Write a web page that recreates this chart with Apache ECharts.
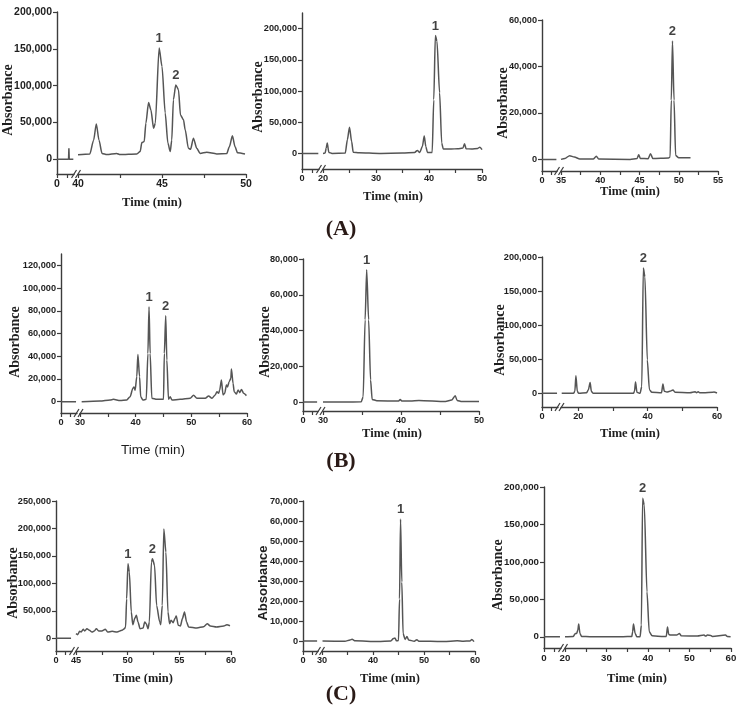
<!DOCTYPE html>
<html><head><meta charset="utf-8">
<script src="https://cdn.jsdelivr.net/npm/echarts@6/dist/echarts.min.js"></script>
<style>html,body{margin:0;padding:0;background:#fff}#c{width:742px;height:715px}</style>
</head><body><div id="c"></div>
<script>
// ---------------- DATA ----------------
// Panel A1
const stubA1 = [[0,0],[3.4,0],[3.5,15000],[3.6,0],[4.8,0]];
const mainA1 = [[40,6000],[40.7,7000],[40.93,26000],[41.09,48000],[41.25,26000],[41.43,8000],[41.72,6400],[42.3,8000],[42.5,6400],[43.5,7300],[43.7,10500],[43.8,22700],[43.94,24000],[44.04,49000],[44.2,77000],[44.34,67000],[44.5,42000],[44.6,49000],[44.83,151000],[45.0,126000],[45.19,63000],[45.35,22000],[45.49,10500],[45.58,26000],[45.68,81000],[45.82,101000],[45.98,94500],[46.1,60000],[46.28,53600],[46.38,40000],[46.57,15000],[46.7,13600],[46.87,28600],[47.07,15000],[47.27,8000],[47.66,9500],[48.26,7300],[48.85,7700],[49.01,17000],[49.19,31800],[49.35,17000],[49.49,9000],[49.94,7300]];
const peaksA1 = [[44.83,151000,'1'],[45.82,101000,'2']];
const yTicksA1 = [0,50000,100000,150000,200000];
const xTicksA1 = [40,42.5,45,47.5,50];
const xLabelsA1 = [40,45,50];
// Panel A2
const stubA2 = [[0,0],[4.8,0]];
const mainA2 = [[20,0],[20.4,500],[20.6,8500],[20.8,16500],[21.1,1600],[21.7,0],[24.2,500],[24.6,22000],[25.0,42000],[25.4,19000],[25.7,2000],[26.8,1000],[30.6,0],[35,500],[37.3,1600],[37.8,4800],[38.25,1600],[38.75,11000],[39.1,28000],[39.4,11000],[39.7,1600],[40.6,1600],[40.9,86000],[41.2,189000],[41.5,180000],[42.0,97000],[42.4,16500],[42.7,7000],[44.2,7000],[45.4,7500],[46.4,8500],[46.7,15500],[47.0,7500],[48.0,7000],[49.2,8000],[49.6,10000],[50,6000]];
const peaksA2 = [[41.2,189000,'1']];
const yTicksA2 = [0,50000,100000,150000,200000];
const xTicksA2 = [20,25,30,35,40,45,50];
const xLabelsA2 = [20,30,40,50];
// Panel A3
const stubA3 = [[0,0],[4.8,0]];
const mainA3 = [[35,0],[35.5,430],[36.1,1600],[36.7,1000],[37.4,150],[39.1,150],[39.5,1300],[39.8,150],[43.8,0],[44.7,400],[44.9,2000],[45.1,400],[46.1,300],[46.4,2400],[46.7,400],[48.7,600],[48.9,1000],[49.05,25500],[49.2,51000],[49.4,25500],[49.6,1700],[50.0,700],[51.5,700]];
const peaksA3 = [[49.2,51000,'2']];
const yTicksA3 = [0,20000,40000,60000];
const xTicksA3 = [35,37.5,40,42.5,45,47.5,50,52.5,55];
const xLabelsA3 = [35,40,45,50,55];
// Panel B1
const stubB1 = [[0,0],[1.4,0],[1.8,900],[2.2,0],[4.7,0]];
const mainB1 = [[30.3,0],[33.6,600],[35.4,1500],[36.0,2000],[37.2,900],[38.4,1500],[39.0,4400],[39.5,11700],[39.7,13000],[39.9,10000],[40.2,22000],[40.4,41600],[40.7,22000],[40.9,4400],[41.3,1500],[41.9,2000],[42.2,42500],[42.4,83500],[42.6,42500],[42.9,3000],[43.8,2000],[45.0,2000],[45.15,42500],[45.4,75600],[45.6,36600],[45.9,2000],[46.2,4400],[46.5,1500],[48.0,2000],[49.8,3000],[50.4,5600],[51.0,3000],[52.5,3000],[53.1,5000],[53.7,3000],[54.3,5900],[54.6,8800],[54.9,7300],[55.1,10300],[55.4,19000],[55.7,5900],[56.0,7300],[56.3,14600],[56.5,13000],[56.8,17600],[57.1,20500],[57.2,28700],[57.5,16000],[57.7,8800],[58.1,6700],[58.4,10300],[58.7,7900],[59.0,10800],[59.4,7300],[59.9,5300]];
const peaksB1 = [[42.4,83500,'1'],[45.4,75600,'2']];
const yTicksB1 = [0,20000,40000,60000,80000,100000,120000];
const xTicksB1 = [30,35,40,45,50,55,60];
const xLabelsB1 = [30,40,50,60];
// Panel B2
const stubB2 = [[0,0],[4.7,0]];
const mainB2 = [[30,0],[32.8,0],[34.9,200],[35.15,3000],[35.4,46000],[35.6,74000],[35.85,46000],[36.1,12300],[36.3,1500],[36.9,750],[39.7,560],[39.9,1500],[40.1,560],[41.2,560],[42.3,900],[45.7,300],[46.5,1100],[46.95,3500],[47.2,900],[47.8,300],[50,300]];
const peaksB2 = [[35.6,74000,'1']];
const yTicksB2 = [0,20000,40000,60000,80000];
const xTicksB2 = [30,35,40,45,50];
const xLabelsB2 = [30,40,50];
// Panel B3
const stubB3 = [[0,0],[4.7,0]];
const mainB3 = [[15.2,0],[18.6,0],[19.0,3000],[19.3,26000],[19.7,3000],[20.1,0],[22.4,1000],[22.9,5400],[23.4,16000],[23.75,3000],[24.3,0],[35.9,0],[36.2,3000],[36.5,16600],[36.9,1500],[37.8,0],[38.3,10000],[38.75,184000],[39.2,171000],[39.9,49000],[40.5,5400],[41.2,1500],[44.0,1000],[44.4,13700],[44.8,3000],[45.5,2000],[46.4,3000],[47.3,4900],[47.9,1500],[52.2,1000],[53.7,2400],[54.1,1000],[54.6,2400],[55.0,1000],[56.1,1000],[58.8,1500],[59.1,2000],[60,500]];
const peaksB3 = [[38.75,184000,'2']];
const yTicksB3 = [0,50000,100000,150000,200000];
const xTicksB3 = [20,30,40,50,60];
const xLabelsB3 = [20,40,60];
// Panel C1
const stubC1 = [[0,0],[4.7,0]];
const mainC1 = [[45,8500],[45.16,6700],[45.35,12800],[45.5,11500],[45.7,16400],[45.84,13400],[46.06,17600],[46.3,14600],[46.55,11500],[46.77,13400],[46.97,17600],[47.2,13400],[47.5,13400],[47.84,16400],[48.06,11500],[48.5,12800],[48.97,11500],[49.45,14600],[49.68,17600],[49.8,20700],[49.9,72000],[50.03,136000],[50.16,121000],[50.35,48000],[50.5,25000],[50.7,37000],[50.84,42000],[51.0,30000],[51.2,17600],[51.5,18800],[51.65,30000],[51.8,26700],[51.97,17600],[52.1,30000],[52.3,139000],[52.4,145000],[52.6,133000],[52.8,60000],[53.1,30000],[53.2,25000],[53.35,60000],[53.5,199000],[53.7,157000],[53.9,48000],[54.06,26700],[54.2,33000],[54.4,28600],[54.6,37000],[54.7,40700],[54.9,23700],[55.1,22500],[55.3,36000],[55.5,48000],[55.7,30000],[55.9,20700],[56.7,18800],[57.35,21300],[57.7,26700],[58.0,22500],[58.6,20700],[59.3,22500],[59.6,25000],[59.9,23000]];
const peaksC1 = [[50.03,136000,'1'],[52.4,145000,'2']];
const yTicksC1 = [0,50000,100000,150000,200000,250000];
const xTicksC1 = [45,47.5,50,52.5,55,57.5,60];
const xLabelsC1 = [45,50,55,60];
// Panel C2
const stubC2 = [[0,0],[4.7,0]];
const mainC2 = [[30.1,0],[34.5,-100],[35.5,500],[35.9,830],[36.5,100],[41.0,-300],[43.5,0],[44.0,1200],[44.3,1500],[44.6,100],[45.0,200],[45.2,21000],[45.4,61000],[45.65,29500],[45.9,3700],[46.3,800],[46.65,2200],[47.0,500],[48.1,-100],[48.6,660],[49.0,-100],[51.3,-100],[53.9,-300],[56.5,170],[57.7,-100],[59.0,0],[59.4,800],[59.8,-300]];
const peaksC2 = [[45.4,61000,'1']];
const yTicksC2 = [0,10000,20000,30000,40000,50000,60000,70000];
const xTicksC2 = [30,35,40,45,50,55,60];
const xLabelsC2 = [30,40,50,60];
// Panel C3
const stubC3 = [[0,0],[4.7,0]];
const mainC3 = [[20,0],[22.0,400],[22.5,4500],[22.8,4500],[23.1,9000],[23.3,17000],[23.6,4500],[24.0,400],[26.0,0],[34.0,0],[36.1,400],[36.3,6700],[36.5,17000],[36.9,4500],[37.3,0],[38.1,0],[38.4,15600],[38.7,185000],[39.1,176000],[39.75,60000],[40.3,6700],[41.0,1300],[43.8,400],[44.4,400],[44.7,13000],[45.0,3100],[45.4,2200],[46.2,2200],[46.9,2200],[47.6,4500],[48.0,1300],[51.9,900],[53.5,2200],[53.9,900],[54.3,2200],[55.1,1800],[55.5,400],[58.7,2200],[59.1,400],[59.9,0]];
const peaksC3 = [[38.7,185000,'2']];
const yTicksC3 = [0,50000,100000,150000,200000];
const xTicksC3 = [20,25,30,35,40,45,50,55,60];
const xLabelsC3 = [20,30,40,50,60];

const stubTicks = [0,3];
const stubLabels = [0];
const captions = ['(A)','(B)','(C)'];
const yTitle = 'Absorbance';
const xTitle = 'Time (min)';

// ---------------- LAYOUT ----------------
const panels = [
 {stub:stubA1, main:mainA1, peaks:peaksA1, yt:yTicksA1, xt:xTicksA1, xl:xLabelsA1, fs:12.5, ax:57, brk:74, mx0:78, mx1:246, top:12, bot:174, ymin:-20000, ymax:200000, xmin:40, xmax:50, yn:[8,100,'serif'], tn:[152,203,'serif']},
 {stub:stubA2, main:mainA2, peaks:peaksA2, yt:yTicksA2, xt:xTicksA2, xl:xLabelsA2, fs:11, ax:302, brk:319, mx0:323, mx1:482, top:13, bot:169, ymin:-25000, ymax:225000, xmin:20, xmax:50, yn:[258,97,'serif'], tn:[393,197,'serif']},
 {stub:stubA3, main:mainA3, peaks:peaksA3, yt:yTicksA3, xt:xTicksA3, xl:xLabelsA3, fs:11, ax:542, brk:557, mx0:561, mx1:718, top:20, bot:171, ymin:-5000, ymax:60000, xmin:35, xmax:55, yn:[503,103,'serif'], tn:[630,192,'serif']},
 {stub:stubB1, main:mainB1, peaks:peaksB1, yt:yTicksB1, xt:xTicksB1, xl:xLabelsB1, fs:11, ax:61, brk:77, mx0:80, mx1:247, top:254, bot:413, ymin:-10000, ymax:130000, xmin:30, xmax:60, yn:[15,342,'serif'], tn:[153,450,'sans']},
 {stub:stubB2, main:mainB2, peaks:peaksB2, yt:yTicksB2, xt:xTicksB2, xl:xLabelsB2, fs:11, ax:303, brk:318, mx0:323, mx1:479, top:259, bot:411, ymin:-5000, ymax:80000, xmin:30, xmax:50, yn:[265,342,'serif'], tn:[392,434,'serif']},
 {stub:stubB3, main:mainB3, peaks:peaksB3, yt:yTicksB3, xt:xTicksB3, xl:xLabelsB3, fs:11, ax:542, brk:558, mx0:561, mx1:717, top:257, bot:407, ymin:-20000, ymax:200000, xmin:15, xmax:60, yn:[500,340,'serif'], tn:[630,434,'serif']},
 {stub:stubC1, main:mainC1, peaks:peaksC1, yt:yTicksC1, xt:xTicksC1, xl:xLabelsC1, fs:11, ax:56, brk:72, mx0:76, mx1:231, top:501, bot:651, ymin:-23000, ymax:250000, xmin:45, xmax:60, yn:[13,583,'serif'], tn:[143,679,'serif']},
 {stub:stubC2, main:mainC2, peaks:peaksC2, yt:yTicksC2, xt:xTicksC2, xl:xLabelsC2, fs:11, ax:303, brk:318, mx0:322, mx1:475, top:501, bot:651, ymin:-5000, ymax:70000, xmin:30, xmax:60, yn:[263,583,'sans'], tn:[390,679,'serif']},
 {stub:stubC3, main:mainC3, peaks:peaksC3, yt:yTicksC3, xt:xTicksC3, xl:xLabelsC3, fs:11.5, ax:544, brk:561, mx0:565, mx1:731, top:487, bot:648, ymin:-15000, ymax:200000, xmin:20, xmax:60, yn:[498,575,'serif'], tn:[637,679,'serif']}
];
const capPos = [[341,229],[341,461],[341,694]];

// detect narrow font
function hasFont(name) {
  const c = document.createElement('canvas').getContext('2d');
  const t = '200,000 Absorbance';
  c.font = 'bold 40px monospace'; const a = c.measureText(t).width;
  c.font = 'bold 40px "' + name + '", monospace'; const b = c.measureText(t).width;
  c.font = 'bold 40px serif'; const a2 = c.measureText(t).width;
  c.font = 'bold 40px "' + name + '", serif'; const b2 = c.measureText(t).width;
  return a !== b || a2 !== b2;
}
const NARROW_OK = hasFont('Liberation Sans Narrow');
const fmt = v => String(v).replace(/\B(?=(\d{3})+(?!\d))/g, ',');
const AX = '#3c3c3c', LINE = '#555', TXT = '#1e1e1e';
const SANS = '"Liberation Sans", Arial, sans-serif';
const LBLF = NARROW_OK ? '"Liberation Sans Narrow", "Liberation Sans", sans-serif' : SANS;
const SCALE = NARROW_OK ? 1 : 0.84;
const SERIF = '"Liberation Serif", "Times New Roman", serif';

const grid = [], xAxis = [], yAxis = [], series = [], graphic = [];
panels.forEach((p, i) => {
  const lblStyle = {fontFamily: LBLF, fontWeight: 'bold', fontSize: +(p.fs * SCALE).toFixed(1), color: TXT};
  const h = p.bot - p.top;
  const gs = grid.length;
  grid.push({left: p.ax, top: p.top, width: p.brk - p.ax, height: h});
  grid.push({left: p.mx0, top: p.top, width: p.mx1 - p.mx0, height: h});
  const axisLine = {show: true, onZero: false, lineStyle: {color: AX, width: 1.4}};
  xAxis.push({type: 'value', gridIndex: gs, min: 0, max: 5, axisLine,
    axisTick: {show: true, length: 4, customValues: stubTicks, lineStyle: {color: AX, width: 1.2}},
    axisLabel: Object.assign({margin: 5, customValues: stubLabels}, lblStyle),
    splitLine: {show: false}});
  xAxis.push({type: 'value', gridIndex: gs + 1, min: p.xmin, max: p.xmax, axisLine,
    axisTick: {show: true, length: 4, customValues: p.xt, lineStyle: {color: AX, width: 1.2}},
    axisLabel: Object.assign({margin: 5, customValues: p.xl}, lblStyle),
    splitLine: {show: false}});
  yAxis.push({type: 'value', gridIndex: gs, min: p.ymin, max: p.ymax, axisLine,
    axisTick: {show: true, length: 4, customValues: p.yt, lineStyle: {color: AX, width: 1.2}},
    axisLabel: Object.assign({margin: 5, customValues: p.yt, formatter: fmt}, lblStyle),
    splitLine: {show: false}});
  yAxis.push({type: 'value', gridIndex: gs + 1, min: p.ymin, max: p.ymax, show: false, splitLine: {show: false}});
  const ls = {color: LINE, width: 1.5};
  series.push({type: 'line', xAxisIndex: gs, yAxisIndex: gs, data: p.stub, showSymbol: false, lineStyle: ls, smooth: false});
  series.push({type: 'line', xAxisIndex: gs + 1, yAxisIndex: gs + 1, data: p.main, showSymbol: false, lineStyle: ls, smooth: 0.25, smoothMonotone: 'x'});
  series.push({type: 'scatter', xAxisIndex: gs + 1, yAxisIndex: gs + 1, symbolSize: 0,
    data: p.peaks.map(k => ({value: [k[0], k[1]], name: k[2]})),
    label: {show: true, position: 'top', distance: 3, formatter: d => d.name,
      fontFamily: SANS, fontWeight: 'bold', fontSize: 13, color: '#111'}});
  const cx = (p.brk + p.mx0) / 2;
  [-2, 2].forEach(dx => graphic.push({type: 'line', shape: {x1: cx + dx - 2.5, y1: p.bot + 4, x2: cx + dx + 2.5, y2: p.bot - 4}, style: {stroke: AX, lineWidth: 1.2}}));
  graphic.push({type: 'text', x: p.yn[0], y: p.yn[1], rotation: Math.PI / 2,
    style: {text: yTitle, fontFamily: p.yn[2] === 'sans' ? SANS : SERIF, fontWeight: 'bold', fontSize: p.yn[2] === 'sans' ? 13 : 14, fill: TXT, textAlign: 'center', textVerticalAlign: 'middle'}});
  graphic.push({type: 'text', x: p.tn[0], y: p.tn[1],
    style: {text: xTitle, fontFamily: p.tn[2] === 'sans' ? SANS : SERIF, fontWeight: p.tn[2] === 'sans' ? 'normal' : 'bold', fontSize: p.tn[2] === 'sans' ? 13.5 : 12.5, fill: TXT, textAlign: 'center', textVerticalAlign: 'middle'}});
});
captions.forEach((c, i) => graphic.push({type: 'text', x: capPos[i][0], y: capPos[i][1],
  style: {text: c, fontFamily: SERIF, fontWeight: 'bold', fontSize: 22, fill: '#2a1a17', textAlign: 'center', textVerticalAlign: 'middle'}}));

const chart = echarts.init(document.getElementById('c'), null, {renderer: 'canvas'});
chart.setOption({animation: false, backgroundColor: '#fff', grid, xAxis, yAxis, series, graphic});
</script></body></html>
